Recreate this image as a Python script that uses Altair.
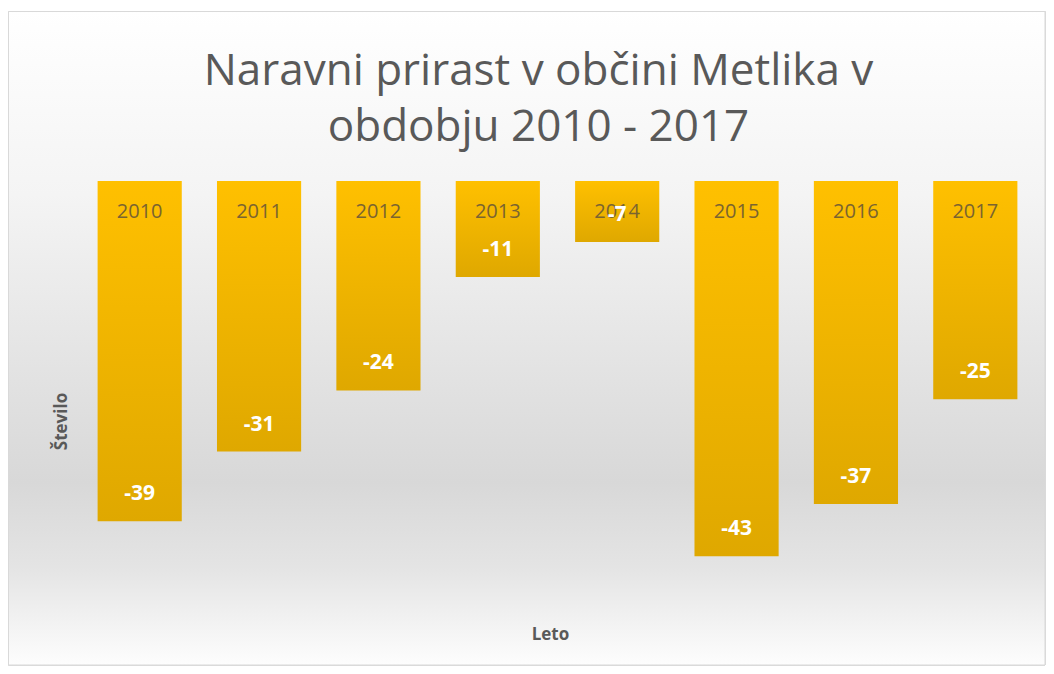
import altair as alt
import pandas as pd

# data
years = ["2010", "2011", "2012", "2013", "2014", "2015", "2016", "2017"]
values = [-39, -31, -24, -11, -7, -43, -37, -25]
value_texts = [str(v) for v in values]

df = pd.DataFrame({"Leto": years, "Stevilo": values, "Oznaka": value_texts})

W, H = 955, 480
PAD_L, PAD_T, PAD_R, PAD_B = 72, 173, 11, 5

x_enc = alt.X(
    "Leto:N",
    sort=years,
    scale=alt.Scale(paddingInner=0.295, paddingOuter=0.1475),
    axis=alt.Axis(
        title="Leto", labels=False, ticks=False, domain=False, grid=False,
        titleY=-27, titleX=470, titleBaseline="middle", titleFont="Open Sans",
        titleFontSize=17, titleFontWeight="bold", titleColor="#595959",
        zindex=2,
    ),
)
y_scale = alt.Scale(domain=[-55, 0], nice=False, zero=True)
y_enc = alt.Y(
    "Stevilo:Q",
    scale=y_scale,
    axis=alt.Axis(
        title="Število", labels=False, ticks=False, domain=False, grid=False,
        titlePadding=10, titleFont="Open Sans", titleFontSize=17,
        titleFontWeight="bold", titleColor="#595959", zindex=2,
    ),
)

background = alt.Chart(df).mark_rect(
    color=alt.Gradient(
        gradient="linear", x1=0, y1=0, x2=0, y2=1,
        stops=[
            alt.GradientStop(color="#ffffff", offset=0.0),
            alt.GradientStop(color="#f4f4f4", offset=0.28),
            alt.GradientStop(color="#d8d8d8", offset=0.72),
            alt.GradientStop(color="#e4e4e4", offset=0.85),
            alt.GradientStop(color="#fdfdfd", offset=1.0),
        ],
    ),
    stroke="#d9d9d9", strokeWidth=1,
).encode(
    x=alt.value(-PAD_L + 0.5), x2=alt.value(W + PAD_R - 1),
    y=alt.value(-PAD_T + 3.5), y2=alt.value(H + PAD_B - 1),
)

bars = alt.Chart(df).mark_bar(
    color=alt.Gradient(
        gradient="linear", x1=0, y1=0, x2=0, y2=1,
        stops=[
            alt.GradientStop(color="#FFC000", offset=0.0),
            alt.GradientStop(color="#DFA800", offset=1.0),
        ],
    ),
).encode(x=x_enc, y=y_enc, y2=alt.datum(0))

year_labels = alt.Chart(df).mark_text(
    font="Open Sans", fontSize=20, color="#7a6430", baseline="middle", dy=31,
).encode(x=x_enc, y=alt.datum(0, scale=y_scale), text="Leto:N")

value_labels = alt.Chart(df).mark_text(
    font="Open Sans", fontSize=21, fontWeight="bold", color="#ffffff",
    baseline="middle", dy=-27,
).encode(x=x_enc, y=y_enc, text="Oznaka:N")

chart = alt.layer(background, bars, year_labels, value_labels).properties(
    width=W, height=H,
    title=alt.Title(
        ["Naravni prirast v občini Metlika v", "obdobju 2010 - 2017"],
        font="Open Sans", fontSize=44, fontWeight="normal", color="#595959",
        anchor="middle", lineHeight=56, offset=-139, dx=-19,
    ),
    autosize=alt.AutoSizeParams(type="none"),
    padding={"left": PAD_L, "top": PAD_T, "right": PAD_R, "bottom": PAD_B},
).configure_view(stroke=None).configure(background="#ffffff")

chart.save("out.html", embed_options={"renderer": "svg", "actions": False})
